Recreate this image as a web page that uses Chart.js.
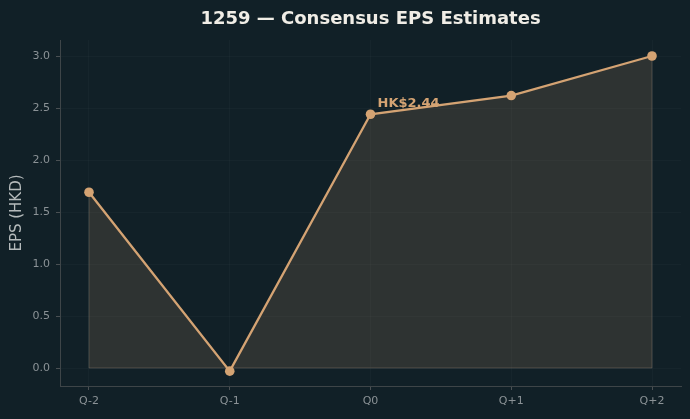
<!DOCTYPE html>
<html>
<head>
<meta charset="utf-8">
<script src="https://cdn.jsdelivr.net/npm/chart.js@4.4.0/dist/chart.umd.min.js"></script>
<style>
html,body{margin:0;padding:0;background:#112027;}
#wrap{width:690px;height:419px;position:relative;}
</style>
</head>
<body>
<div id="wrap"><canvas id="c" width="690" height="419"></canvas></div>
<script>
const categories = ["Q-2", "Q-1", "Q0", "Q+1", "Q+2"];
const epsValues = [1.69, -0.03, 2.44, 2.62, 3.0];
const yTicks = [0.0, 0.5, 1.0, 1.5, 2.0, 2.5, 3.0];
const annotationIndex = 2;
const annotationText = "HK$2.44";
const titleText = "1259 — Consensus EPS Estimates";
const yAxisLabel = "EPS (HKD)";

const FONT = "'DejaVu Sans', sans-serif";
const LINE = "#d4a373";

const bgPlugin = {
  id: 'bg',
  beforeDraw(chart) {
    const ctx = chart.ctx;
    ctx.save();
    ctx.fillStyle = '#112027';
    ctx.fillRect(0, 0, chart.width, chart.height);
    ctx.restore();
  }
};

const edgePlugin = {
  id: 'edge',
  beforeDatasetsDraw(chart) {
    const xs = chart.scales.x, ys = chart.scales.y;
    const ctx = chart.ctx;
    const n = epsValues.length;
    const x0 = xs.getPixelForValue(0), x1 = xs.getPixelForValue(n - 1);
    const yz = ys.getPixelForValue(0);
    ctx.save();
    ctx.strokeStyle = 'rgba(120,118,108,0.45)';
    ctx.lineWidth = 1;
    ctx.beginPath();
    ctx.moveTo(x0, ys.getPixelForValue(epsValues[0]));
    ctx.lineTo(x0, yz);
    ctx.lineTo(x1, yz);
    ctx.lineTo(x1, ys.getPixelForValue(epsValues[n - 1]));
    ctx.stroke();
    ctx.restore();
  },
  afterDatasetsDraw(chart) {
    const xs = chart.scales.x, ys = chart.scales.y;
    const ctx = chart.ctx;
    ctx.save();
    ctx.fillStyle = LINE;
    ctx.font = "bold 13px " + FONT;
    ctx.textAlign = 'left';
    ctx.textBaseline = 'alphabetic';
    ctx.fillText(annotationText, xs.getPixelForValue(annotationIndex) + 7, ys.getPixelForValue(epsValues[annotationIndex]) - 7);
    ctx.restore();
  }
};

new Chart(document.getElementById('c'), {
  type: 'line',
  data: {
    datasets: [{
      data: epsValues.map((v, i) => ({x: i, y: v})),
      borderColor: LINE,
      borderWidth: 2.3,
      backgroundColor: 'rgba(212,163,115,0.15)',
      fill: 'origin',
      pointRadius: 4.8,
      pointBackgroundColor: LINE,
      pointBorderWidth: 0,
      pointHoverRadius: 4.8,
      tension: 0
    }]
  },
  options: {
    responsive: false,
    animation: false,
    events: [],
    layout: {padding: {left: 0, right: 9, top: 0, bottom: 0}},
    plugins: {
      legend: {display: false},
      tooltip: {enabled: false},
      title: {
        display: true,
        text: titleText,
        color: '#f0ede6',
        font: {family: FONT, size: 18, weight: 'bold'},
        padding: {top: 9, bottom: 9.4},
        fullSize: false
      }
    },
    scales: {
      x: {
        type: 'linear',
        min: -0.206,
        max: 4.206,
        afterBuildTicks(scale) {
          scale.ticks = categories.map((c, i) => ({value: i}));
        },
        afterFit(scale) { scale.height = 33; },
        ticks: {
          color: '#8b9296',
          font: {family: FONT, size: 11},
          padding: 5,
          maxRotation: 0,
          autoSkip: false,
          callback: (v) => categories[v]
        },
        grid: {
          color: 'rgba(255,255,255,0.025)',
          tickColor: '#4a5053',
          tickLength: 4,
          drawTicks: true
        },
        border: {display: true, color: '#3e4548', width: 1}
      },
      y: {
        type: 'linear',
        min: -0.173,
        max: 3.154,
        afterBuildTicks(scale) {
          scale.ticks = yTicks.map(v => ({value: v}));
        },
        afterFit(scale) { scale.width = 60; },
        ticks: {
          color: '#8b9296',
          font: {family: FONT, size: 11},
          padding: 6,
          callback: (v) => Number(v).toFixed(1)
        },
        title: {
          display: true,
          text: yAxisLabel,
          color: '#b5babb',
          font: {family: FONT, size: 15},
          padding: {top: 8, bottom: 0}
        },
        grid: {
          color: 'rgba(255,255,255,0.025)',
          tickColor: '#4a5053',
          tickLength: 4,
          drawTicks: true
        },
        border: {display: true, color: '#3e4548', width: 1}
      }
    }
  },
  plugins: [bgPlugin, edgePlugin]
});
</script>
</body>
</html>
